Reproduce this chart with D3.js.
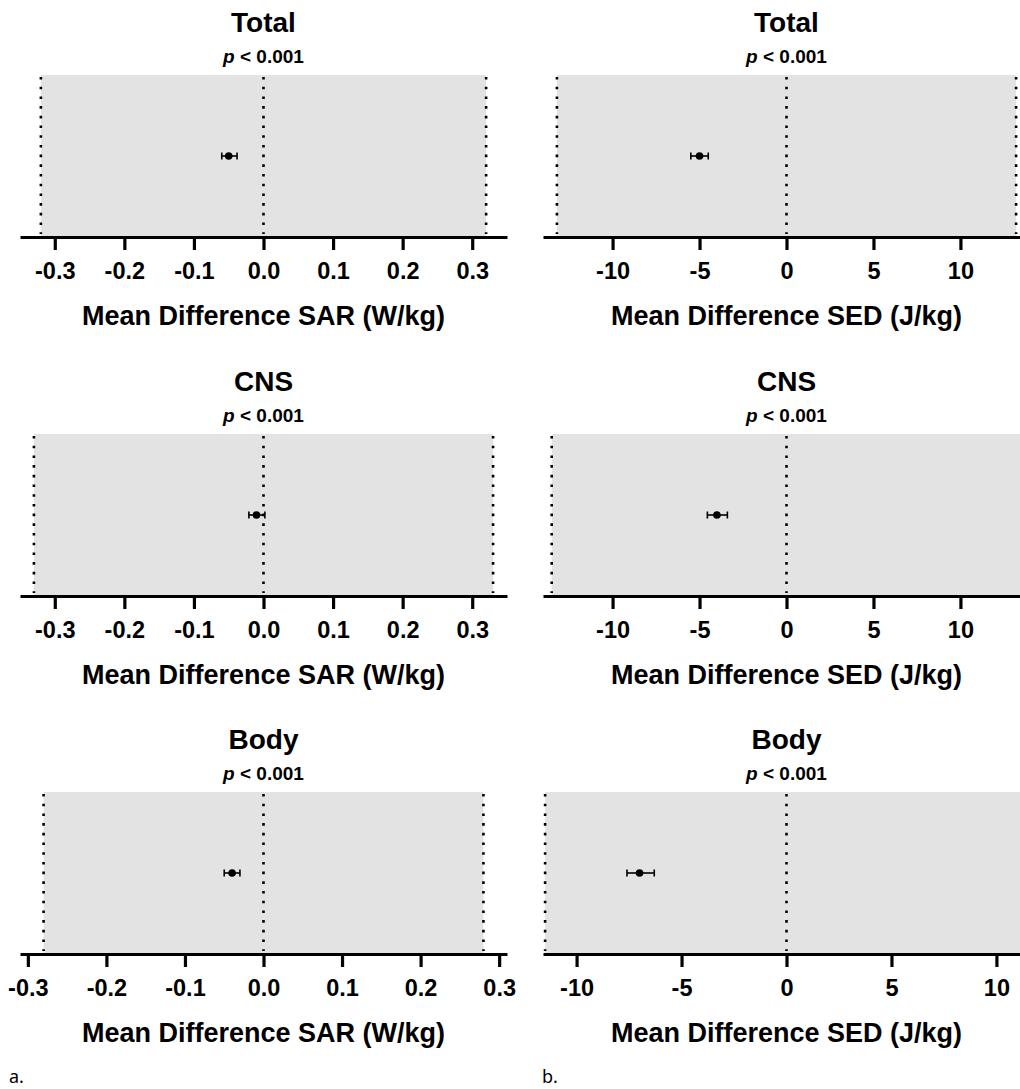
<!DOCTYPE html>
<html>
<head>
<meta charset="utf-8">
<script src="https://cdn.jsdelivr.net/npm/d3@7"></script>
<style>
	body { margin: 0; background: #fff; }
	text { font-family: 'Liberation Sans', Arial, sans-serif; fill: #000; }
</style>
</head>
<body>
<script>
const w = 1020;
const h = 1089;

// one row per region, same order in every array
const regions = [ 'Total', 'CNS', 'Body' ];
const pValues = [ '< 0.001', '< 0.001', '< 0.001' ];

// a. SAR (W/kg)
const sarMean = [ -0.05, -0.01, -0.04 ];
const sarLow = [ -0.06, -0.021, -0.05 ];
const sarHigh = [ -0.038, 0.002, -0.03 ];
const sarLimit = [ 0.32, 0.33, 0.28 ];
const sarExtent = [ 0.35, 0.35, 0.31 ];
const sarTicks = [ -0.3, -0.2, -0.1, 0, 0.1, 0.2, 0.3 ];

// b. SED (J/kg)
const sedMean = [ -5.0, -4.0, -7.0 ];
const sedLow = [ -5.5, -4.55, -7.6 ];
const sedHigh = [ -4.5, -3.4, -6.3 ];
const sedLimit = [ 13.2, 13.5, 11.5 ];
const sedExtent = [ 14, 14, 11.6 ];
const sedTicks = [ -10, -5, 0, 5, 10 ];

const columns = [
	{
		mean: sarMean, low: sarLow, high: sarHigh, limit: sarLimit, extent: sarExtent, ticks: sarTicks,
		range: [ 20, 507 ], fmt: function(d) { return d.toFixed(1); },
		title: 'Mean Difference SAR (W/kg)', tag: 'a.', tagX: 9
	},
	{
		mean: sedMean, low: sedLow, high: sedHigh, limit: sedLimit, extent: sedExtent, ticks: sedTicks,
		range: [ 543, 1030 ], fmt: function(d) { return String(d); },
		title: 'Mean Difference SED (J/kg)', tag: 'b.', tagX: 542
	}
];

const rowTop = [ 75, 434, 792 ];
const rowAxis = [ 237, 596, 954 ];

const svg = d3.select('body').append('svg').attr('width', w).attr('height', h);

columns.forEach(function(col) {
	regions.forEach(function(region, i) {
		const x = d3.scaleLinear().domain([ -col.extent[i], col.extent[i] ]).range(col.range);
		const y = d3.scaleLinear().domain([ 0, 1 ]).range([ rowAxis[i], rowTop[i] ]);
		const cx = (col.range[0] + col.range[1]) / 2;
		const g = svg.append('g');

		// shaded band between limits of agreement
		g
			.append('rect')
			.attr('x', x(-col.limit[i]))
			.attr('y', rowTop[i])
			.attr('width', x(col.limit[i]) - x(-col.limit[i]))
			.attr('height', rowAxis[i] - rowTop[i])
			.attr('fill', '#e3e3e3');

		// dotted reference lines
		g
			.selectAll('.ref')
			.data([ -col.limit[i], 0, col.limit[i] ])
			.enter()
			.append('line')
			.attr('x1', function(d) { return x(d); })
			.attr('x2', function(d) { return x(d); })
			.attr('y1', rowTop[i] + 2)
			.attr('y2', rowAxis[i] - 3)
			.attr('stroke', '#000')
			.attr('stroke-width', 2.6)
			.attr('stroke-dasharray', '2.6 7.1');

		// axis
		const axis = d3.axisBottom(x).tickValues(col.ticks).tickSize(13).tickSizeOuter(0).tickPadding(12).tickFormat(col.fmt);
		const ax = g.append('g').attr('transform', 'translate(0,' + rowAxis[i] + ')').call(axis);
		ax.select('.domain').attr('stroke', '#000').attr('stroke-width', 3.2);
		ax.selectAll('.tick line').attr('stroke', '#000').attr('stroke-width', 3.2);
		ax
			.selectAll('.tick text')
			.attr('fill', '#000')
			.style('font-family', "'Liberation Sans', Arial, sans-serif")
			.style('font-size', '23.5px')
			.style('font-weight', 'bold');

		// mean with confidence interval
		const yc = y(0.5);
		g
			.append('line')
			.attr('x1', x(col.low[i]))
			.attr('x2', x(col.high[i]))
			.attr('y1', yc)
			.attr('y2', yc)
			.attr('stroke', '#000')
			.attr('stroke-width', 1.6);
		g
			.selectAll('.cap')
			.data([ col.low[i], col.high[i] ])
			.enter()
			.append('line')
			.attr('x1', function(d) { return x(d); })
			.attr('x2', function(d) { return x(d); })
			.attr('y1', yc - 3.5)
			.attr('y2', yc + 3.5)
			.attr('stroke', '#000')
			.attr('stroke-width', 1.6);
		g.append('circle').attr('cx', x(col.mean[i])).attr('cy', yc).attr('r', 3.8).attr('fill', '#000');

		// titles
		g
			.append('text')
			.attr('x', cx)
			.attr('y', rowTop[i] - 43)
			.attr('text-anchor', 'middle')
			.style('font-size', '28px')
			.style('font-weight', 'bold')
			.text(region);

		const p = g
			.append('text')
			.attr('x', cx)
			.attr('y', rowTop[i] - 12)
			.attr('text-anchor', 'middle')
			.style('font-size', '19px')
			.style('font-weight', 'bold');
		p.append('tspan').style('font-style', 'italic').text('p');
		p.append('tspan').text(' ' + pValues[i]);

		g
			.append('text')
			.attr('x', cx)
			.attr('y', rowAxis[i] + 88)
			.attr('text-anchor', 'middle')
			.style('font-size', '27px')
			.style('font-weight', 'bold')
			.text(col.title);
	});

	svg
		.append('text')
		.attr('x', col.tagX)
		.attr('y', 1083)
		.style('font-family', "'Noto Sans', sans-serif")
		.style('font-size', '18px')
		.text(col.tag);
});
</script>
</body>
</html>
